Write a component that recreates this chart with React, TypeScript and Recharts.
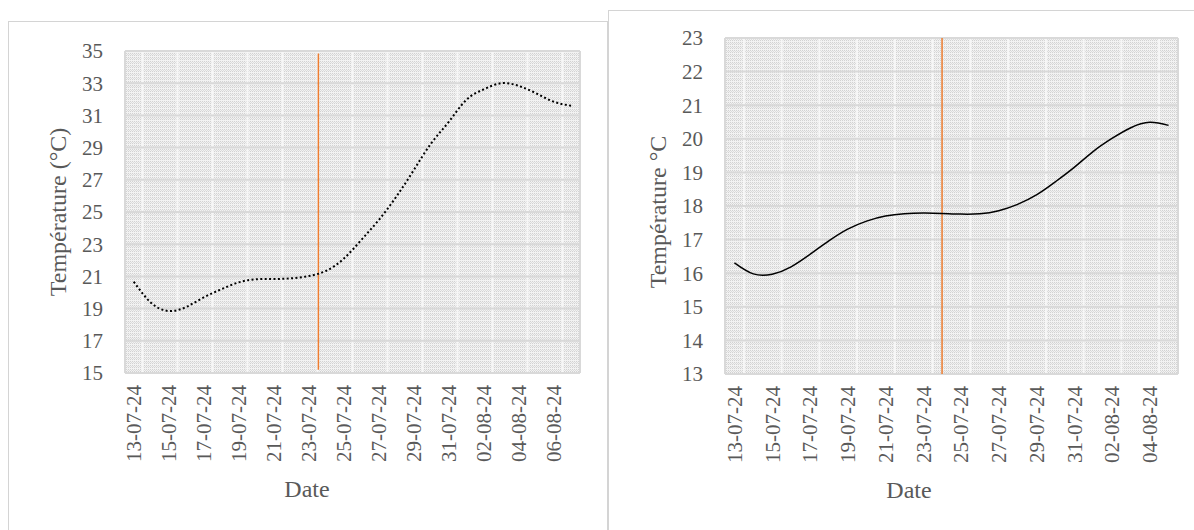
import React from 'react';
import { LineChart, Line, XAxis, YAxis, CartesianGrid, ReferenceLine } from 'recharts';

const FONT = '"Liberation Serif", "Times New Roman", serif';
const TEXT = '#595959';
const GRID_MAJOR = '#d9d9d9';
const GRID_MINOR = '#f7f7f7';
const ORANGE = '#ED7D31';
const BORDER = '#d4d4d4';

// Left panel: daily dates and temperatures (°C)
const datesA = [
  '13-07-24', '14-07-24', '15-07-24', '16-07-24', '17-07-24', '18-07-24', '19-07-24',
  '20-07-24', '21-07-24', '22-07-24', '23-07-24', '24-07-24', '25-07-24', '26-07-24',
  '27-07-24', '28-07-24', '29-07-24', '30-07-24', '31-07-24', '01-08-24', '02-08-24',
  '03-08-24', '04-08-24', '05-08-24', '06-08-24', '07-08-24',
];
const tempsA = [
  20.67, 19.35, 18.85, 19.1, 19.7, 20.2, 20.63, 20.82, 20.84, 20.88, 21.02, 21.35, 22.1,
  23.26, 24.5, 25.95, 27.6, 29.27, 30.6, 31.96, 32.62, 33.0, 32.83, 32.37, 31.85, 31.6,
];
const tempTicksA = [15, 17, 19, 21, 23, 25, 27, 29, 31, 33, 35];
const markerDayA = 10.55;
const markerRangeA = [15.2, 34.85];

// Right panel: daily dates and temperatures (°C)
const datesB = [
  '13-07-24', '14-07-24', '15-07-24', '16-07-24', '17-07-24', '18-07-24', '19-07-24',
  '20-07-24', '21-07-24', '22-07-24', '23-07-24', '24-07-24', '25-07-24', '26-07-24',
  '27-07-24', '28-07-24', '29-07-24', '30-07-24', '31-07-24', '01-08-24', '02-08-24',
  '03-08-24', '04-08-24', '05-08-24',
];
const tempsB = [
  16.31, 15.98, 15.97, 16.19, 16.56, 16.96, 17.31, 17.55, 17.7, 17.77, 17.79, 17.78,
  17.76, 17.77, 17.86, 18.05, 18.33, 18.72, 19.15, 19.62, 20.01, 20.33, 20.49, 20.4,
];
const tempTicksB = [13, 14, 15, 16, 17, 18, 19, 20, 21, 22, 23];
const markerDayB = 11;
const markerRangeB = [13, 23];

type PanelProps = {
  id: string;
  dates: string[];
  temps: number[];
  yTicks: number[];
  markerDay: number;
  markerRange: number[];
  dotted: boolean;
  yTitle: string;
  width: number;
  height: number;
  margin: { top: number; right: number; bottom: number; left: number };
  axisHeight: number;
  titleX: number;
  titleDy: number;
  yTitleShift: number;
};

const DateTick = (props: any) => {
  const { x, y, payload, labels } = props;
  return (
    <text
      x={x}
      y={y}
      transform={`rotate(-90 ${x} ${y})`}
      textAnchor="end"
      dy="0.35em"
      fill={TEXT}
      fontSize={21}
      fontFamily={FONT}
    >
      {labels[payload.value]}
    </text>
  );
};

function TempPanel(p: PanelProps) {
  const n = p.dates.length;
  const rows = p.temps.map((t, i) => ({ i, temp: t }));
  const xDomain = [-0.5, n - 0.5];
  const labelTicks = p.dates.map((_, i) => i).filter((i) => i % 2 === 0);
  const majorBounds: number[] = [];
  for (let k = 0; 2 * k - 0.5 <= n - 0.5; k++) majorBounds.push(2 * k - 0.5);
  const minorBounds = labelTicks.map((i) => i + 0.5).filter((v) => v < n - 0.5);
  const yDomain = [p.yTicks[0], p.yTicks[p.yTicks.length - 1]];
  const yMinor = p.yTicks.slice(1).map((v, k) => (v + p.yTicks[k]) / 2);
  const pid = `cells-${p.id}`;

  const yTitle = (lp: any) => {
    const vb = lp.viewBox || {};
    const cx = (vb.x || 0) + 50;
    const cy = (vb.y || 0) + (vb.height || 0) / 2 + p.yTitleShift;
    return (
      <text
        x={cx}
        y={cy}
        transform={`rotate(-90 ${cx} ${cy})`}
        textAnchor="middle"
        dy="0.35em"
        fill={TEXT}
        fontSize={24}
        fontFamily={FONT}
      >
        {p.yTitle}
      </text>
    );
  };

  const xTitle = (lp: any) => {
    const vb = lp.viewBox || {};
    return (
      <text
        x={p.titleX}
        y={(vb.y || 0) + p.titleDy}
        textAnchor="middle"
        dy="0.35em"
        fill={TEXT}
        fontSize={24}
        fontFamily={FONT}
      >
        Date
      </text>
    );
  };

  return (
    <LineChart width={p.width} height={p.height} data={rows} margin={p.margin}>
      <defs>
        <pattern id={pid} width="4" height="4" patternUnits="userSpaceOnUse">
          <rect width="4" height="4" fill="#f2f2f2" />
          <rect x="0" y="0" width="1" height="1" fill="#d2d2d2" />
          <rect x="2" y="0" width="1" height="1" fill="#d2d2d2" />
          <rect x="1" y="1" width="1" height="1" fill="#dcdcdc" />
          <rect x="3" y="1" width="1" height="1" fill="#dcdcdc" />
          <rect x="0" y="2" width="1" height="1" fill="#d2d2d2" />
          <rect x="2" y="2" width="1" height="1" fill="#d2d2d2" />
        </pattern>
      </defs>
      <XAxis
        xAxisId="marks"
        type="number"
        dataKey="i"
        domain={xDomain}
        ticks={majorBounds}
        interval={0}
        tick={false}
        tickSize={9}
        tickLine={{ stroke: GRID_MAJOR, strokeWidth: 2 }}
        axisLine={{ stroke: GRID_MAJOR, strokeWidth: 2 }}
        height={0}
      />
      <XAxis
        type="number"
        dataKey="i"
        domain={xDomain}
        ticks={labelTicks}
        interval={0}
        tick={<DateTick labels={p.dates} />}
        tickLine={false}
        axisLine={false}
        tickSize={0}
        tickMargin={12}
        height={p.axisHeight}
        label={xTitle}
      />
      <XAxis xAxisId="minorX" hide type="number" dataKey="i" domain={xDomain} ticks={minorBounds} height={0} />
      <YAxis
        type="number"
        domain={yDomain}
        ticks={p.yTicks}
        interval={0}
        width={117}
        tickLine={false}
        axisLine={false}
        tickMargin={16}
        tick={{ fill: TEXT, fontSize: 21, fontFamily: FONT }}
        label={yTitle}
      />
      <YAxis yAxisId="minorY" hide type="number" domain={yDomain} ticks={yMinor} width={0} />
      <CartesianGrid
        xAxisId="minorX"
        yAxisId="minorY"
        fill={`url(#${pid})`}
        fillOpacity={1}
        stroke={GRID_MINOR}
        strokeWidth={2}
      />
      <CartesianGrid xAxisId="marks" stroke={GRID_MAJOR} strokeWidth={2} />
      <ReferenceLine
        segment={[
          { x: p.markerDay, y: p.markerRange[0] },
          { x: p.markerDay, y: p.markerRange[1] },
        ]}
        stroke={ORANGE}
        strokeWidth={1.5}
      />
      <Line
        type="natural"
        dataKey="temp"
        stroke="#000"
        strokeWidth={p.dotted ? 2 : 1.5}
        strokeDasharray={p.dotted ? '2 2.4' : undefined}
        dot={false}
        activeDot={false}
        isAnimationActive={false}
      />
    </LineChart>
  );
}

export default function App() {
  return (
    <div
      style={{
        position: 'absolute',
        left: 0,
        top: 0,
        width: 1194,
        height: 530,
        overflow: 'hidden',
        background: '#fff',
        fontFamily: FONT,
      }}
    >
      <div
        style={{
          position: 'absolute',
          left: 8,
          top: 21,
          width: 600,
          height: 600,
          border: `1px solid ${BORDER}`,
          boxSizing: 'border-box',
        }}
      />
      <div
        style={{
          position: 'absolute',
          left: 608,
          top: 10,
          width: 700,
          height: 600,
          border: `1px solid ${BORDER}`,
          boxSizing: 'border-box',
          background: '#fff',
        }}
      />
      <div style={{ position: 'absolute', left: 8, top: 21 }}>
        <TempPanel
          id="a"
          dates={datesA}
          temps={tempsA}
          yTicks={tempTicksA}
          markerDay={markerDayA}
          markerRange={markerRangeA}
          dotted
          yTitle="Température (°C)"
          width={600}
          height={509}
          margin={{ top: 30, right: 28, bottom: 0, left: 0 }}
          axisHeight={157}
          titleX={299}
          titleDy={116}
          yTitleShift={0}
        />
      </div>
      <div style={{ position: 'absolute', left: 608, top: 10 }}>
        <TempPanel
          id="b"
          dates={datesB}
          temps={tempsB}
          yTicks={tempTicksB}
          markerDay={markerDayB}
          markerRange={markerRangeB}
          dotted={false}
          yTitle="Température °C"
          width={586}
          height={520}
          margin={{ top: 28, right: 16, bottom: 0, left: 0 }}
          axisHeight={156}
          titleX={301}
          titleDy={116}
          yTitleShift={6}
        />
      </div>
    </div>
  );
}
